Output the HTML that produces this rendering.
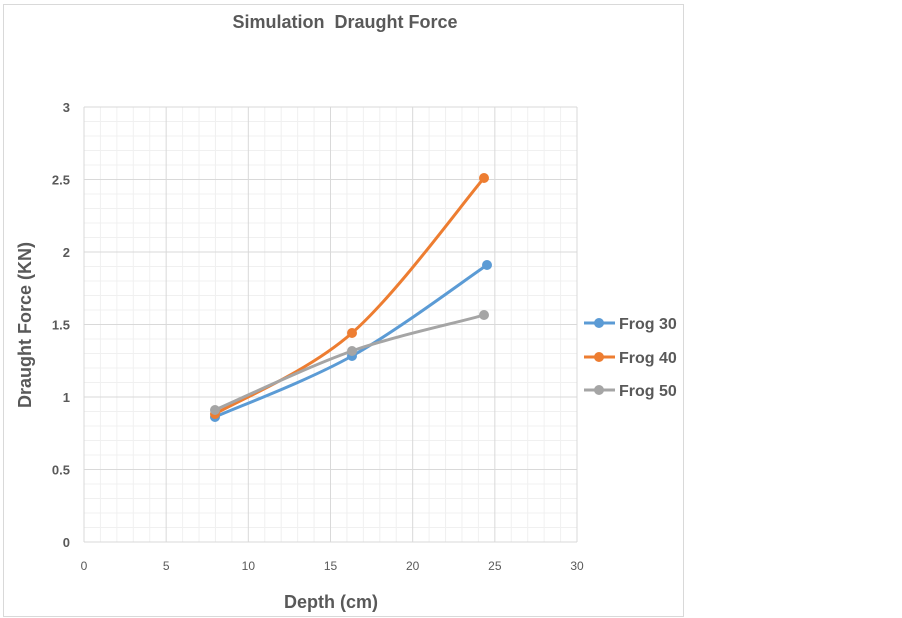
<!DOCTYPE html>
<html><head><meta charset="utf-8"><style>
html,body{margin:0;padding:0;background:#fff;width:902px;height:618px;overflow:hidden}
svg{display:block}
text{font-family:"Liberation Sans",sans-serif;fill:#595959}
</style></head><body>
<svg id="s" width="902" height="618" viewBox="0 0 902 618">
<rect x="3.5" y="4.5" width="680" height="612" fill="#fff" stroke="#d9d9d9" stroke-width="1"/>
<g id="grid"></g>
<text x="345" y="28" font-size="18" font-weight="bold" text-anchor="middle">Simulation&#160; Draught Force</text>
<g font-size="13" font-weight="bold" text-anchor="end" id="yl"></g>
<g font-size="12" text-anchor="middle" id="xl"></g>
<text x="331" y="608" font-size="18" font-weight="bold" text-anchor="middle">Depth (cm)</text>
<text transform="translate(31,325) rotate(-90)" font-size="18" font-weight="bold" text-anchor="middle">Draught Force (KN)</text>
<g fill="none" stroke-width="3" stroke-linecap="round">
<path d="M215,417 C237.8,406.8 306.7,381.3 352,356 C397.3,330.7 464.5,280.2 487,265" stroke="#5B9BD5"/>
<path d="M215,414 C237.8,400.5 307.2,372.3 352,333 C396.8,293.7 462,203.8 484,178" stroke="#ED7D31"/>
<path d="M215,410 C237.8,400.2 307.2,366.8 352,351 C396.8,335.2 462,321.7 484,315" stroke="#A5A5A5"/>
</g>
<g fill="#5B9BD5"><circle cx="215" cy="417" r="5"/><circle cx="352" cy="356" r="5"/><circle cx="487" cy="265" r="5"/></g>
<g fill="#ED7D31"><circle cx="215" cy="414" r="5"/><circle cx="352" cy="333" r="5"/><circle cx="484" cy="178" r="5"/></g>
<g fill="#A5A5A5"><circle cx="215" cy="410" r="5"/><circle cx="352" cy="351" r="5"/><circle cx="484" cy="315" r="5"/></g>
<g stroke-width="3">
<line x1="584" y1="323" x2="615" y2="323" stroke="#5B9BD5"/><circle cx="599" cy="323" r="5" fill="#5B9BD5"/>
<line x1="584" y1="357" x2="615" y2="357" stroke="#ED7D31"/><circle cx="599" cy="357" r="5" fill="#ED7D31"/>
<line x1="584" y1="390" x2="615" y2="390" stroke="#A5A5A5"/><circle cx="599" cy="390" r="5" fill="#A5A5A5"/>
</g>
<g font-size="16" font-weight="bold">
<text x="619" y="329">Frog 30</text><text x="619" y="363">Frog 40</text><text x="619" y="396">Frog 50</text>
</g>
</svg>
<script>
var NS="http://www.w3.org/2000/svg",g=document.getElementById("grid");
function ln(x1,y1,x2,y2,c){var l=document.createElementNS(NS,"line");l.setAttribute("x1",x1);l.setAttribute("y1",y1);l.setAttribute("x2",x2);l.setAttribute("y2",y2);l.setAttribute("stroke",c);l.setAttribute("stroke-width",1);g.appendChild(l);}
var L=84,R=577,T=107,B=542;
for(var i=0;i<=30;i++){var x=L+(R-L)*i/30;if(i%5)ln(x,T,x,B,"#f0f0f0");}
for(var j=0;j<=30;j++){var y=B-(B-T)*j/30;if(j%5)ln(L,y,R,y,"#f0f0f0");}
for(var i=0;i<=30;i+=5){var x=L+(R-L)*i/30;ln(x,T,x,B,"#d9d9d9");}
for(var j=0;j<=30;j+=5){var y=B-(B-T)*j/30;ln(L,y,R,y,"#d9d9d9");}
var yl=document.getElementById("yl"),xl=document.getElementById("xl");
["0","0.5","1","1.5","2","2.5","3"].forEach(function(t,k){var e=document.createElementNS(NS,"text");e.setAttribute("x",70);e.setAttribute("y",B-(B-T)*k/6+5);e.textContent=t;yl.appendChild(e);});
for(var i=0;i<=30;i+=5){var e=document.createElementNS(NS,"text");e.setAttribute("x",L+(R-L)*i/30);e.setAttribute("y",570);e.textContent=i;xl.appendChild(e);}
</script>
</body></html>
